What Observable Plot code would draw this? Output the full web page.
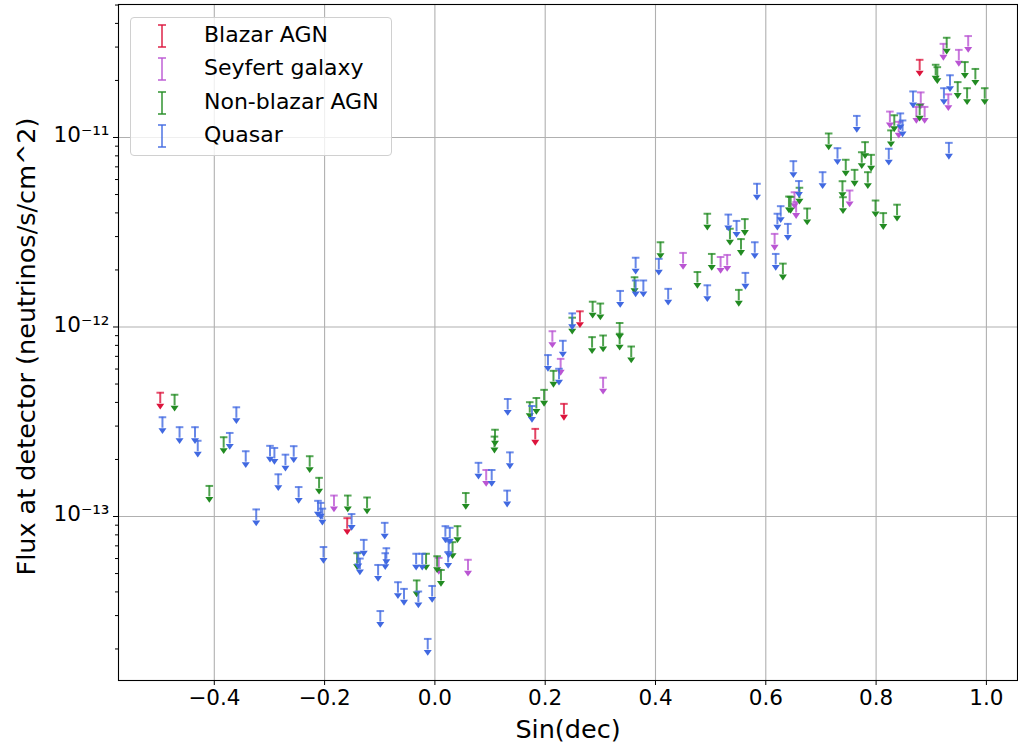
<!DOCTYPE html>
<html>
<head>
<meta charset="utf-8">
<script src="https://cdn.jsdelivr.net/npm/d3@7"></script>
<script src="https://cdn.jsdelivr.net/npm/@observablehq/plot@0.6"></script>
<style>
  body { margin: 0; background: #fff; font-family: "DejaVu Sans", sans-serif; }
  #wrap { position: relative; width: 1018px; height: 744px; }
  #legend { position: absolute; left: 130px; top: 17px; width: 262px; height: 139px; box-sizing: border-box;
            border: 1px solid #d0d0d0; border-radius: 4px; background: rgba(255,255,255,0.8); }
  .item { position: absolute; left: 0; width: 260px; height: 34px; }
  .item svg { position: absolute; left: 25px; top: 4px; }
  .item span { position: absolute; left: 73px; top: 3px; font-size: 22px; line-height: 26px; color: #000; white-space: nowrap; }
</style>
</head>
<body>
<div id="wrap"><div id="chart"></div><div id="legend"></div></div>
<script>
// ---- data ----
const categories = ["Blazar AGN", "Seyfert galaxy", "Non-blazar AGN", "Quasar"];
const colors = ["#dc143c", "#ba55d3", "#228b22", "#4169e1"];

const blazarSinDec = [-0.498, -0.159, 0.182, 0.234, 0.263, 0.879];
const blazarFlux   = [4.50e-13, 9.8e-14, 2.90e-13, 3.93e-13, 1.21e-12, 2.57e-11];

const seyfertSinDec = [-0.183, 0.007, 0.060, 0.093, 0.213, 0.228, 0.305, 0.450, 0.518, 0.530, 0.616, 0.652,
                       0.655, 0.752, 0.825, 0.841, 0.873, 0.881, 0.888, 0.922, 0.931, 0.950, 0.967];
const seyfertFlux   = [1.29e-13, 6.05e-14, 5.91e-14, 1.76e-13, 9.50e-13, 6.79e-13, 5.40e-13, 2.46e-12, 2.34e-12, 2.40e-12, 3.10e-12, 5.14e-12,
                       4.56e-12, 5.25e-12, 1.37e-11, 1.21e-11, 1.45e-11, 1.73e-11, 1.45e-11, 3.12e-11, 1.69e-11, 2.90e-11, 3.43e-11];

const nonBlazarSinDec = [-0.472, -0.409, -0.383, -0.227, -0.210, -0.158, -0.123, -0.141, -0.033, -0.016,
                         0.004, 0.011, 0.032, 0.041, 0.056, 0.109, 0.108, 0.172, 0.184, 0.198,
                         0.215, 0.249, 0.285, 0.286, 0.300, 0.305, 0.335, 0.335, 0.356, 0.362,
                         0.409, 0.476, 0.494, 0.502, 0.551, 0.535, 0.555, 0.562, 0.631, 0.642,
                         0.645, 0.661, 0.675, 0.714, 0.739, 0.740, 0.745, 0.761, 0.774, 0.780,
                         0.785, 0.791, 0.799, 0.813, 0.838, 0.827, 0.833, 0.879, 0.908, 0.911,
                         0.928, 0.948, 0.961, 0.965, 0.980, 0.997];
const nonBlazarFlux   = [4.39e-13, 1.45e-13, 2.62e-13, 2.08e-13, 1.60e-13, 1.29e-13, 1.26e-13, 6.40e-14, 4.60e-14, 6.36e-14,
                         6.17e-14, 5.22e-14, 7.32e-14, 8.89e-14, 1.33e-13, 2.87e-13, 2.64e-13, 4.01e-13, 4.22e-13, 4.66e-13,
                         5.87e-13, 1.12e-12, 8.84e-13, 1.36e-12, 1.33e-12, 9.02e-13, 1.05e-12, 9.21e-13, 7.89e-13, 1.83e-12,
                         2.80e-12, 1.95e-12, 3.96e-12, 2.43e-12, 1.57e-12, 3.30e-12, 2.91e-12, 3.71e-12, 2.16e-12, 4.88e-12,
                         4.86e-12, 5.43e-12, 4.22e-12, 1.05e-11, 5.88e-12, 4.84e-12, 7.63e-12, 6.75e-12, 8.36e-12, 9.45e-12,
                         6.56e-12, 8.10e-12, 4.65e-12, 3.99e-12, 4.42e-12, 1.09e-11, 1.31e-11, 1.49e-11, 2.42e-11, 2.35e-11,
                         3.36e-11, 1.96e-11, 2.50e-11, 1.82e-11, 2.30e-11, 1.82e-11];

const quasarSinDec = [-0.494, -0.463, -0.435, -0.430, -0.360, -0.372, -0.343, -0.324, -0.299, -0.291,
                      -0.284, -0.271, -0.256, -0.247, -0.212, -0.207, -0.204, -0.202, -0.151, -0.129,
                      -0.139, -0.136, -0.091, -0.088, -0.090, -0.103, -0.099, -0.067, -0.056, -0.034,
                      -0.030, -0.023, -0.005, -0.013, 0.019, 0.027, 0.025, 0.024, 0.079, 0.103,
                      0.131, 0.132, 0.136, 0.176, 0.205, 0.225, 0.232, 0.249, 0.336, 0.364,
                      0.364, 0.378, 0.406, 0.423, 0.494, 0.532, 0.547, 0.563, 0.580, 0.584,
                      0.618, 0.621, 0.627, 0.640, 0.650, 0.660, 0.703, 0.730, 0.765, 0.823,
                      0.844, 0.848, 0.867, 0.923, 0.934, 0.932];
const quasarFlux   = [3.34e-13, 2.96e-13, 2.96e-13, 2.51e-13, 3.77e-13, 2.76e-13, 2.21e-13, 1.09e-13, 2.36e-13, 2.30e-13,
                      1.67e-13, 2.12e-13, 2.35e-13, 1.43e-13, 1.21e-13, 1.18e-13, 1.10e-13, 6.90e-14, 1.03e-13, 7.53e-14,
                      6.46e-14, 6.00e-14, 9.26e-14, 6.80e-14, 6.40e-14, 5.55e-14, 3.17e-14, 4.50e-14, 4.15e-14, 6.36e-14,
                      4.02e-14, 6.36e-14, 4.30e-14, 2.26e-14, 8.89e-14, 8.72e-14, 7.38e-14, 6.50e-14, 1.92e-13, 1.76e-13,
                      1.37e-13, 4.17e-13, 2.18e-13, 3.83e-13, 7.11e-13, 6.02e-13, 8.46e-13, 1.18e-12, 1.55e-12, 2.32e-12,
                      1.76e-12, 1.76e-12, 2.29e-12, 1.59e-12, 1.66e-12, 3.92e-12, 3.63e-12, 1.93e-12, 2.80e-12, 5.70e-12,
                      2.43e-12, 3.96e-12, 4.34e-12, 3.50e-12, 7.50e-12, 5.89e-12, 6.56e-12, 8.78e-12, 1.30e-11, 8.72e-12,
                      1.34e-11, 1.23e-11, 1.75e-11, 1.82e-11, 2.13e-11, 9.37e-12];

const xTicks = [-0.4, -0.2, 0.0, 0.2, 0.4, 0.6, 0.8, 1.0];
const xTickLabels = ["\u22120.4", "\u22120.2", "0.0", "0.2", "0.4", "0.6", "0.8", "1.0"];
const yTicks = [1e-13, 1e-12, 1e-11];
const yTickLabels = ["10\u207B\u00B9\u00B3", "10\u207B\u00B9\u00B2", "10\u207B\u00B9\u00B9"];
const xLabel = "Sin(dec)";
const yLabel = "Flux at detector (neutrinos/s/cm^2)";

// ---- build table ----
const series = [[blazarSinDec, blazarFlux], [seyfertSinDec, seyfertFlux], [nonBlazarSinDec, nonBlazarFlux], [quasarSinDec, quasarFlux]];
const data = series.flatMap(([xs, fs], i) => xs.map((x, j) => ({category: categories[i], sinDec: x, flux: fs[j]})));

const yDomain = [Math.pow(10, -13.8654), Math.pow(10, -10.2982)];
const minorTicks = [];
for (let k = -14; k <= -11; k++) for (let m = 2; m <= 9; m++) {
  const v = m * Math.pow(10, k);
  if (v > yDomain[0] && v < yDomain[1]) minorTicks.push(v);
}

const ARROW = 0.875; // ratio of arrow base to cap value (constant length on log axis)
const capSym = {draw(ctx, size) { const r = Math.sqrt(size / Math.PI); ctx.moveTo(-r, 0); ctx.lineTo(r, 0); }};
const arrowSym = {draw(ctx, size) { const r = Math.sqrt(size / Math.PI); ctx.moveTo(-r, 0); ctx.lineTo(r, 0); ctx.lineTo(0, r * 1.45); ctx.closePath(); }};

const dataMarks = categories.flatMap(c => {
  const d = data.filter(r => r.category === c);
  return [
    Plot.ruleX(d, {x: "sinDec", y1: r => r.flux * ARROW, y2: "flux", stroke: "category", strokeWidth: 2, strokeOpacity: 0.8}),
    Plot.dot(d, {x: "sinDec", y: "flux", symbol: capSym, r: 3.8, stroke: "category", fill: "none", strokeWidth: 2, strokeOpacity: 0.75}),
    Plot.dot(d, {x: "sinDec", y: r => r.flux * ARROW, symbol: arrowSym, r: 4, fill: "category", stroke: "none"})
  ];
});

const chart = Plot.plot({
  width: 1018, height: 744,
  marginLeft: 118, marginRight: 1, marginTop: 4, marginBottom: 64,
  style: {fontFamily: "DejaVu Sans", background: "white", color: "black", overflow: "visible"},
  x: {domain: [-0.5737, 1.0564]},
  y: {type: "log", domain: yDomain},
  color: {domain: categories, range: colors},
  marks: [
    Plot.gridX(xTicks, {stroke: "#b0b0b0", strokeOpacity: 1, strokeWidth: 1.1}),
    Plot.gridY(yTicks, {stroke: "#b0b0b0", strokeOpacity: 1, strokeWidth: 1.1}),
    ...dataMarks,
    Plot.frame({stroke: "black", strokeWidth: 1.1}),
    Plot.axisX(xTicks, {tickSize: 5, tickPadding: 4, fontSize: 21.5, tickFormat: d => xTickLabels[xTicks.indexOf(d)], label: null}),
    Plot.axisY(yTicks, {tickSize: 5, tickFormat: () => "", label: null}),
    Plot.axisY(minorTicks, {tickSize: 3, tickFormat: () => "", label: null}),
    Plot.text(yTicks, {y: d => d, text: d => yTickLabels[yTicks.indexOf(d)], frameAnchor: "left", textAnchor: "end", lineAnchor: "middle", dx: -9, dy: -2, fontSize: 21.5}),
    Plot.text([xLabel], {frameAnchor: "bottom", textAnchor: "middle", lineAnchor: "middle", dy: 49, fontSize: 25.5, text: d => d}),
    Plot.text([yLabel], {frameAnchor: "left", textAnchor: "middle", lineAnchor: "middle", dx: -92, dy: 4, rotate: -90, fontSize: 25.5, text: d => d})
  ]
});
document.getElementById("chart").appendChild(chart);

// ---- legend ----
const legend = document.getElementById("legend");
categories.forEach((c, i) => {
  const item = document.createElement("div");
  item.className = "item";
  item.style.top = (1 + i * 33.4) + "px";
  item.innerHTML =
    `<svg width="12" height="26"><g stroke="${colors[i]}" stroke-opacity="0.7" stroke-width="2">` +
    `<line x1="6" y1="2" x2="6" y2="24"/><line x1="2" y1="2" x2="10" y2="2"/><line x1="2" y1="24" x2="10" y2="24"/></g></svg>` +
    `<span>${c}</span>`;
  legend.appendChild(item);
});
</script>
</body>
</html>
